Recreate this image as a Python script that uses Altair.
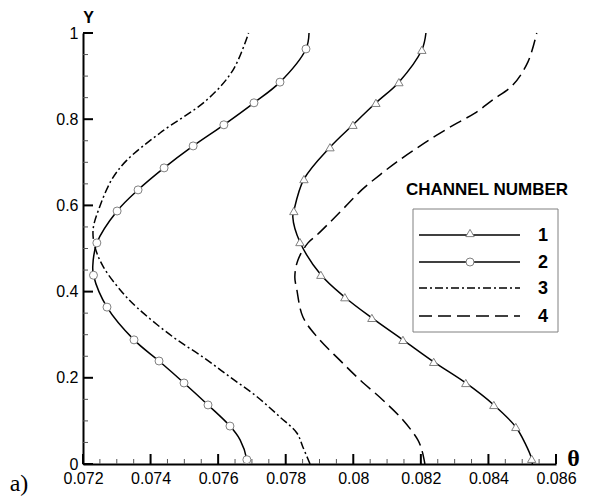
import altair as alt
import pandas as pd

# ---------------- data ----------------
# channel 1 (solid, triangles)
ch1_theta = [0.08530, 0.08528, 0.08508, 0.08481, 0.08416, 0.08333, 0.08238, 0.08147, 0.08055,
             0.07975, 0.07904, 0.07842, 0.07821, 0.07824, 0.07854, 0.07931, 0.07999, 0.08067,
             0.08135, 0.08203, 0.08215]
ch1_y = [0.0, 0.012, 0.049, 0.086, 0.137, 0.188, 0.237, 0.288, 0.339,
         0.387, 0.439, 0.515, 0.573, 0.587, 0.661, 0.735, 0.787, 0.838,
         0.886, 0.961, 1.0]
ch1_mk_theta = [0.08528, 0.08481, 0.08416, 0.08333, 0.08238, 0.08147, 0.08055, 0.07975, 0.07904,
                0.07842, 0.07824, 0.07854, 0.07931, 0.07999, 0.08067, 0.08135, 0.08203]
ch1_mk_y = [0.012, 0.086, 0.137, 0.188, 0.237, 0.288, 0.339, 0.387, 0.439,
            0.515, 0.587, 0.661, 0.735, 0.787, 0.838, 0.886, 0.961]

# channel 2 (solid, circles)
ch2_theta = [0.07685, 0.07685, 0.07665, 0.07635, 0.07570, 0.07499, 0.07425, 0.07351, 0.07271,
             0.07231, 0.07229, 0.07241, 0.07301, 0.07363, 0.07440, 0.07526, 0.07617, 0.07706,
             0.07783, 0.07860, 0.07869]
ch2_y = [0.0, 0.010, 0.056, 0.088, 0.137, 0.188, 0.239, 0.288, 0.364,
         0.438, 0.460, 0.513, 0.587, 0.636, 0.687, 0.738, 0.787, 0.838,
         0.886, 0.963, 1.0]
ch2_mk_theta = [0.07685, 0.07635, 0.07570, 0.07499, 0.07425, 0.07351, 0.07271, 0.07231,
                0.07241, 0.07301, 0.07363, 0.07440, 0.07526, 0.07617, 0.07706, 0.07783, 0.07860]
ch2_mk_y = [0.010, 0.088, 0.137, 0.188, 0.239, 0.288, 0.364, 0.438,
            0.513, 0.587, 0.636, 0.687, 0.738, 0.787, 0.838, 0.886, 0.963]

# channel 3 (dash-dot)
ch3_theta = [0.07872, 0.07851, 0.07833, 0.07783, 0.07715, 0.07635, 0.07555, 0.07466, 0.07360,
             0.07309, 0.07259, 0.07235, 0.07230, 0.07250, 0.07286, 0.07330, 0.07428, 0.07567,
             0.07644, 0.07690]
ch3_y = [0.0, 0.039, 0.072, 0.109, 0.156, 0.202, 0.248, 0.295, 0.363,
         0.405, 0.459, 0.505, 0.545, 0.598, 0.661, 0.705, 0.768, 0.845,
         0.914, 1.0]

# channel 4 (dashed)
ch4_theta = [0.08212, 0.08203, 0.08191, 0.08147, 0.08088, 0.08020, 0.07960, 0.07896, 0.07851,
             0.07833, 0.07827, 0.07836, 0.07866, 0.07892, 0.07931, 0.07975, 0.08025, 0.08079,
             0.08129, 0.08188, 0.08247, 0.08307, 0.08360, 0.08413, 0.08472, 0.08517, 0.08543]
ch4_y = [0.0, 0.032, 0.056, 0.102, 0.148, 0.195, 0.241, 0.292, 0.341,
         0.404, 0.434, 0.473, 0.513, 0.531, 0.561, 0.596, 0.636, 0.671,
         0.701, 0.733, 0.763, 0.791, 0.814, 0.845, 0.879, 0.933, 1.0]

x_major = [0.072, 0.074, 0.076, 0.078, 0.08, 0.082, 0.084, 0.086]
x_minor = [0.0725, 0.073, 0.0735, 0.0745, 0.075, 0.0755, 0.0765, 0.077, 0.0775,
           0.0785, 0.079, 0.0795, 0.0805, 0.081, 0.0815, 0.0825, 0.083, 0.0835,
           0.0845, 0.085, 0.0855]
y_major = [0, 0.2, 0.4, 0.6, 0.8, 1.0]
y_minor = [0.05, 0.1, 0.15, 0.25, 0.3, 0.35, 0.45, 0.5, 0.55, 0.65, 0.7, 0.75,
           0.85, 0.9, 0.95]

legend_title = "CHANNEL NUMBER"
legend_labels = ["1", "2", "3", "4"]
panel_label = "a)"

# ---------------- chart ----------------
W, H = 473, 431
FONT = "Liberation Sans"
dash3 = [8, 3, 2, 3]
dash4 = [13, 6]

xs = alt.Scale(domain=[0.072, 0.086], nice=False, zero=False)
ys = alt.Scale(domain=[0, 1], nice=False, zero=False)

xaxis = alt.Axis(values=x_major, format="~g", ticks=False, grid=False,
                 domainColor="black", domainWidth=2, labelFont=FONT, labelFontSize=16,
                 labelColor="black", labelPadding=6, labelFlush=False, labelOverlap=False,
                 title="θ", titleFont="Liberation Serif", titleFontSize=24,
                 titleFontWeight="bold", titleColor="black", titleX=490, titleY=-6,
                 titleAngle=0, titleAlign="center", titleBaseline="middle")
yaxis = alt.Axis(values=y_major, format="~g", ticks=False, grid=False,
                 domainColor="black", domainWidth=2, labelFont=FONT, labelFontSize=16,
                 labelColor="black", labelPadding=5, labelFlush=False, labelOverlap=False,
                 title="Y", titleFont=FONT, titleFontSize=16, titleFontWeight="bold",
                 titleColor="black", titleX=5, titleY=-16, titleAngle=0,
                 titleAlign="center", titleBaseline="middle")

X = alt.X("t:Q", scale=xs, axis=xaxis)
Y = alt.Y("y:Q", scale=ys, axis=yaxis)


def curve_df(th, yy):
    return pd.DataFrame({"t": th, "y": yy, "i": list(range(len(th)))})


def line(th, yy, **kw):
    return alt.Chart(curve_df(th, yy)).mark_line(
        color="black", strokeWidth=1.5, interpolate="catmull-rom", clip=False, **kw
    ).encode(x=X, y=Y, order="i:Q")


c1 = line(ch1_theta, ch1_y)
c2 = line(ch2_theta, ch2_y)
c3 = line(ch3_theta, ch3_y, strokeDash=dash3)
c4 = line(ch4_theta, ch4_y, strokeDash=dash4)

m1 = alt.Chart(pd.DataFrame({"t": ch1_mk_theta, "y": ch1_mk_y})).mark_point(
    shape="triangle-up", size=70, filled=True, fill="white", stroke="#808080",
    strokeWidth=1, opacity=1).encode(x=X, y=Y)
m2 = alt.Chart(pd.DataFrame({"t": ch2_mk_theta, "y": ch2_mk_y})).mark_point(
    shape="circle", size=64, filled=True, fill="white", stroke="#808080",
    strokeWidth=1, opacity=1).encode(x=X, y=Y)

# inward ticks
xt_major = alt.Chart(pd.DataFrame({"t": x_major})).mark_rule(color="black", strokeWidth=2).encode(
    x=X, y=alt.value(H), y2=alt.value(H - 10))
xt_minor = alt.Chart(pd.DataFrame({"t": x_minor})).mark_rule(color="#555555", strokeWidth=1).encode(
    x=X, y=alt.value(H), y2=alt.value(H - 5))
yt_major = alt.Chart(pd.DataFrame({"y": y_major})).mark_rule(color="black", strokeWidth=2).encode(
    y=Y, x=alt.value(0), x2=alt.value(10))
yt_minor = alt.Chart(pd.DataFrame({"y": y_minor})).mark_rule(color="#555555", strokeWidth=1).encode(
    y=Y, x=alt.value(0), x2=alt.value(5))

# legend (drawn manually)
one = pd.DataFrame({"a": [0]})
lg_box = alt.Chart(one).mark_rect(fill="white", stroke="#808080", strokeWidth=1).encode(
    x=alt.value(330), x2=alt.value(475), y=alt.value(176), y2=alt.value(299))
lg_title = alt.Chart(pd.DataFrame({"s": [legend_title]})).mark_text(
    font=FONT, fontSize=17, fontWeight="bold", color="black", align="center",
    baseline="middle").encode(text="s:N", x=alt.value(404), y=alt.value(157))

rows_y = [202, 229, 255, 283]
styles = [dict(), dict(), dict(strokeDash=dash3), dict(strokeDash=dash4)]
lg_layers = []
for k, lab in enumerate(legend_labels):
    ry = rows_y[k]
    lg_layers.append(alt.Chart(one).mark_rule(color="black", strokeWidth=1.5, **styles[k]).encode(
        x=alt.value(336), x2=alt.value(437), y=alt.value(ry)))
    lg_layers.append(alt.Chart(pd.DataFrame({"s": [lab]})).mark_text(
        font=FONT, fontSize=18, fontWeight="bold", color="black", align="center",
        baseline="middle").encode(text="s:N", x=alt.value(460), y=alt.value(ry + 1)))
lg_layers.append(alt.Chart(one).mark_point(
    shape="triangle-up", size=70, filled=True, fill="white", stroke="#808080",
    strokeWidth=1, opacity=1).encode(x=alt.value(387), y=alt.value(rows_y[0] - 2)))
lg_layers.append(alt.Chart(one).mark_point(
    shape="circle", size=64, filled=True, fill="white", stroke="#808080",
    strokeWidth=1, opacity=1).encode(x=alt.value(387), y=alt.value(rows_y[1])))

lab_a = alt.Chart(pd.DataFrame({"s": [panel_label]})).mark_text(
    font="Liberation Serif", fontSize=24, color="black", align="center",
    baseline="middle").encode(text="s:N", x=alt.value(-64), y=alt.value(451))

chart = alt.layer(
    c3, c4, c1, c2, m1, m2,
    xt_major, xt_minor, yt_major, yt_minor,
    lg_box, lg_title, *lg_layers, lab_a
).properties(
    width=W, height=H,
    padding={"left": 75, "top": 25, "right": 25, "bottom": 36},
    autosize=alt.AutoSizeParams(type="none"),
    background="white",
).configure_view(stroke=None)

chart.save("out.html", embed_options={"renderer": "svg", "actions": False})
